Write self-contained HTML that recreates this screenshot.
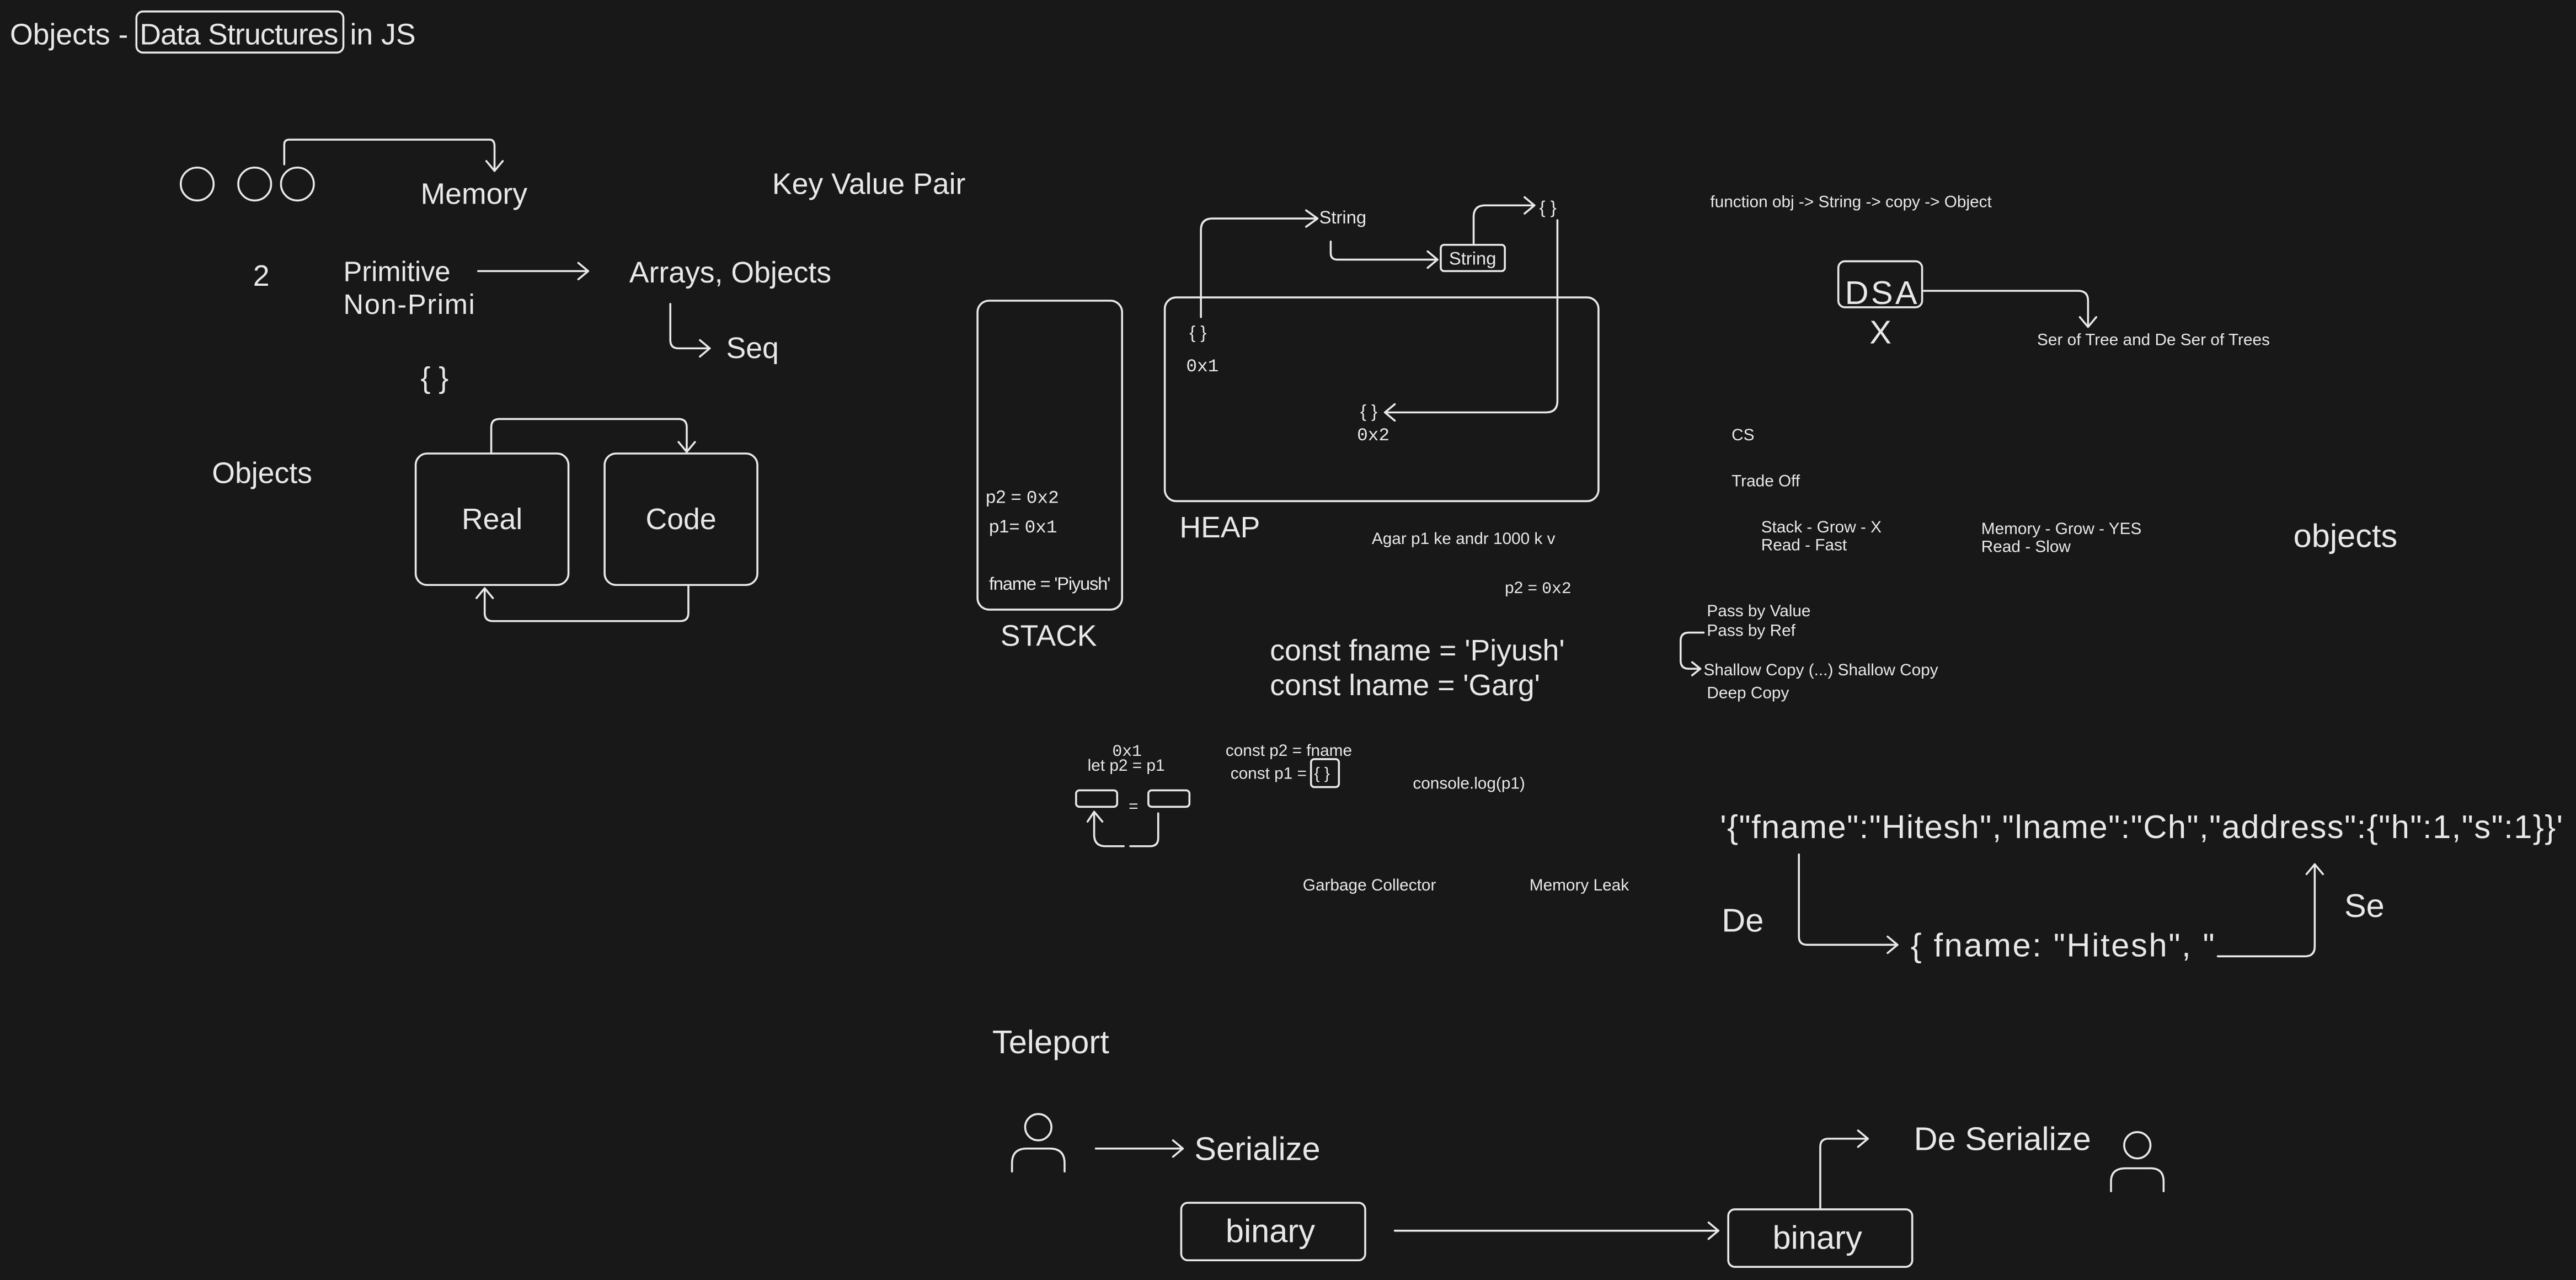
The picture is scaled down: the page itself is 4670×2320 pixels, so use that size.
<!DOCTYPE html>
<html><head><meta charset="utf-8"><style>
html,body{margin:0;padding:0;background:#181818;}
svg{display:block}
text{fill:#e8e8e8;font-family:"Liberation Sans",sans-serif;}
.m{font-family:"Liberation Mono",monospace;}
</style></head><body>
<svg width="4670" height="2320" viewBox="0 0 1568 779" xmlns="http://www.w3.org/2000/svg">
<rect width="1568" height="779" fill="#181818"/>
<g fill="none" stroke="#e8e8e8" stroke-width="1.2" stroke-linecap="round" stroke-linejoin="round">
<rect x="83" y="7" width="126" height="25" rx="4"/>
<circle cx="120" cy="112" r="10"/><circle cx="155" cy="112" r="10"/><circle cx="181" cy="112" r="10"/>
<path d="M173 100 V88 Q173 85 176 85 H298 Q301 85 301 89 V104"/><path d="M296 98 L301 104 L306 98"/>
<path d="M291 165 H358"/><path d="M352 160 L358 165 L352 170"/>
<path d="M408 185 V207 Q408 212 413 212 H432"/><path d="M426 207 L432 212 L426 217"/>
<rect x="253" y="276" width="93" height="80" rx="7"/>
<rect x="368" y="276" width="93" height="80" rx="7"/>
<path d="M299 276 V260 Q299 255 304 255 H413 Q418 255 418 260 V275"/><path d="M413 269 L418 275 L423 269"/>
<path d="M419 357 V373 Q419 378 414 378 H300 Q295 378 295 373 V358"/><path d="M290 364 L295 358 L300 364"/>
<rect x="595" y="183" width="88" height="188" rx="7"/>
<rect x="709" y="181" width="264" height="124" rx="7"/>
<path d="M731 193 V140 Q731 133 738 133 H801"/><path d="M795 128 L802 133 L795 138"/>
<path d="M810 147 V154 Q810 158 814 158 H875"/><path d="M869 153 L875 158 L869 163"/>
<rect x="877" y="149" width="39" height="16" rx="2"/>
<path d="M897 149 V132 Q897 125 904 125 H934"/><path d="M928 120 L934 125 L928 130"/>
<path d="M948 134 V244 Q948 251 941 251 H843"/><path d="M849 246 L843 251 L849 256"/>
<rect x="798" y="462" width="17" height="17" rx="2"/>
<rect x="655" y="481" width="25" height="10" rx="2"/>
<rect x="699" y="481" width="25" height="10" rx="2"/>
<path d="M705 495 V510 Q705 515 700 515 H688"/>
<path d="M684 515 H673 Q666 515 666 508 V495"/><path d="M662 500 L666 494 L671 500"/>
<rect x="1119" y="159" width="51" height="28" rx="4"/>
<path d="M1171 177 H1265 Q1271 177 1271 183 V198"/><path d="M1266 193 L1271 199 L1276 193"/>
<path d="M1037 385 H1028 Q1023 385 1023 390 V402 Q1023 407 1028 407 H1035"/><path d="M1030 403 L1035 407 L1030 411"/>
<path d="M1095 520 V570 Q1095 575 1100 575 H1155"/><path d="M1149 570 L1155 575 L1149 580"/>
<path d="M1350 582 H1403 Q1409 582 1409 576 V526"/><path d="M1404 532 L1409 526 L1414 532"/>
<circle cx="632" cy="686" r="8"/><path d="M616 713 V708 Q616 699 625 699 H639 Q648 699 648 708 V713"/>
<circle cx="1301" cy="697" r="8"/><path d="M1285 725 V719 Q1285 711 1294 711 H1309 Q1317 711 1317 719 V725"/>
<path d="M667 699 H720"/><path d="M714 694 L720 699 L714 704"/>
<rect x="719" y="732" width="112" height="35" rx="4"/>
<rect x="1052" y="736" width="112" height="35" rx="4"/>
<path d="M849 749 H1046"/><path d="M1040 744 L1046 749 L1040 754"/>
<path d="M1108 736 V698 Q1108 693 1113 693 H1137"/><path d="M1131 688 L1137 693 L1131 698"/>
</g>
<g>
<text x="6" y="27" font-size="18">Objects - </text>
<text x="85" y="27" font-size="18" textLength="121">Data Structures</text>
<text x="213" y="27" font-size="18">in JS</text>
<text x="256" y="124" font-size="18">Memory</text>
<text x="470" y="118" font-size="18">Key Value Pair</text>
<text x="154" y="174" font-size="18">2</text>
<text x="209" y="171" font-size="17">Primitive</text>
<text x="209" y="191" font-size="17" textLength="80">Non-Primi</text>
<text x="383" y="172" font-size="18">Arrays, Objects</text>
<text x="442" y="218" font-size="18">Seq</text>
<text x="256" y="236" font-size="18">{ }</text>
<text x="129" y="294" font-size="18">Objects</text>
<text x="281" y="322" font-size="18">Real</text>
<text x="393" y="322" font-size="18">Code</text>
<text x="803" y="136" font-size="11">String</text>
<text x="882" y="161" font-size="11">String</text>
<text x="937" y="130" font-size="11">{ }</text>
<text x="724" y="206" font-size="11">{ }</text>
<text x="722" y="226" font-size="11" class="m">0x1</text>
<text x="828" y="254" font-size="11">{ }</text>
<text x="826" y="268" font-size="11" class="m">0x2</text>
<text x="600" y="306" font-size="11">p2 = <tspan class="m">0x2</tspan></text>
<text x="602" y="324" font-size="11">p1= <tspan class="m">0x1</tspan></text>
<text x="602" y="359" font-size="11" textLength="74">fname = 'Piyush'</text>
<text x="609" y="393" font-size="18">STACK</text>
<text x="718" y="327" font-size="18">HEAP</text>
<text x="835" y="331" font-size="10">Agar p1 ke andr 1000 k v</text>
<text x="916" y="361" font-size="10">p2 = <tspan class="m">0x2</tspan></text>
<text x="773" y="402" font-size="18">const fname = 'Piyush'</text>
<text x="773" y="423" font-size="18">const lname = 'Garg'</text>
<text x="677" y="460" font-size="10" class="m">0x1</text>
<text x="662" y="469" font-size="10">let p2 = p1</text>
<text x="687" y="494" font-size="10">=</text>
<text x="746" y="460" font-size="10">const p2 = fname</text>
<text x="749" y="474" font-size="10">const p1 =</text>
<text x="800" y="474" font-size="10">{ }</text>
<text x="860" y="480" font-size="10">console.log(p1)</text>
<text x="793" y="542" font-size="10">Garbage Collector</text>
<text x="931" y="542" font-size="10">Memory Leak</text>
<text x="1041" y="126" font-size="10">function obj -&gt; String -&gt; copy -&gt; Object</text>
<text x="1123" y="185" font-size="20" textLength="44">DSA</text>
<text x="1138" y="209" font-size="20">X</text>
<text x="1240" y="210" font-size="10">Ser of Tree and De Ser of Trees</text>
<text x="1054" y="268" font-size="10">CS</text>
<text x="1054" y="296" font-size="10">Trade Off</text>
<text x="1072" y="324" font-size="10">Stack - Grow - X</text>
<text x="1072" y="335" font-size="10">Read - Fast</text>
<text x="1206" y="325" font-size="10">Memory - Grow - YES</text>
<text x="1206" y="336" font-size="10">Read - Slow</text>
<text x="1396" y="333" font-size="20">objects</text>
<text x="1039" y="375" font-size="10">Pass by Value</text>
<text x="1039" y="387" font-size="10">Pass by Ref</text>
<text x="1037" y="411" font-size="10">Shallow Copy (...) Shallow Copy</text>
<text x="1039" y="425" font-size="10">Deep Copy</text>
<text x="1047" y="510" font-size="20" textLength="513">'{"fname":"Hitesh","lname":"Ch","address":{"h":1,"s":1}}'</text>
<text x="1048" y="567" font-size="20">De</text>
<text x="1163" y="582" font-size="20" textLength="185">{  fname: "Hitesh", "</text>
<text x="1427" y="558" font-size="20">Se</text>
<text x="604" y="641" font-size="20">Teleport</text>
<text x="727" y="706" font-size="20">Serialize</text>
<text x="1165" y="700" font-size="20">De Serialize</text>
<text x="746" y="756" font-size="20">binary</text>
<text x="1079" y="760" font-size="20">binary</text>
</g>
</svg>
</body></html>
